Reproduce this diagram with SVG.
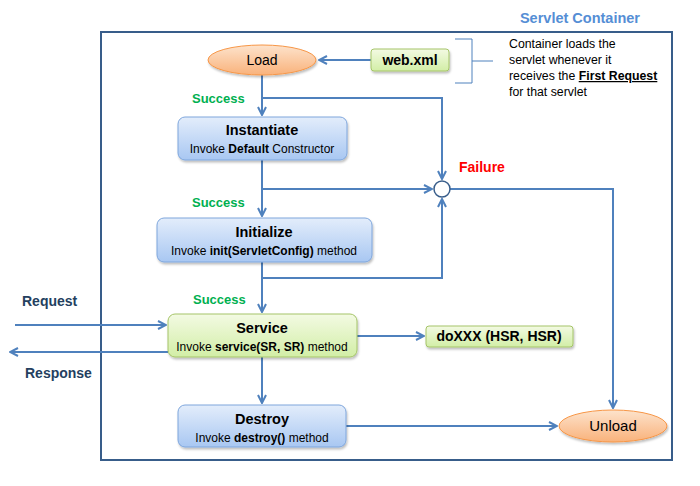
<svg xmlns="http://www.w3.org/2000/svg" width="700" height="486" viewBox="0 0 700 486">
<defs>
<linearGradient id="gBlue" x1="0" y1="0" x2="0" y2="1"><stop offset="0" stop-color="#E3EDFB"/><stop offset="1" stop-color="#A8C7F2"/></linearGradient>
<linearGradient id="gGreen" x1="0" y1="0" x2="0" y2="1"><stop offset="0" stop-color="#F3FAE3"/><stop offset="1" stop-color="#D2EEA6"/></linearGradient>
<linearGradient id="gOrange" x1="0" y1="0" x2="0" y2="1"><stop offset="0" stop-color="#FDE3CC"/><stop offset="1" stop-color="#F9B27B"/></linearGradient>
<filter id="sh" x="-10%" y="-20%" width="120%" height="150%"><feDropShadow dx="1" dy="2" stdDeviation="1.2" flood-color="#000" flood-opacity="0.25"/></filter>
<marker id="arr" viewBox="0 0 10 10" refX="9" refY="5" markerWidth="5" markerHeight="5" orient="auto" markerUnits="strokeWidth">
<polyline points="1,1 9,5 1,9" fill="none" stroke="#4F81BD" stroke-width="2"/>
</marker>
</defs>
<style>
text{font-family:"Liberation Sans",Arial,sans-serif;}
.blue{fill:url(#gBlue);stroke:#7EA6DC;stroke-width:1;filter:url(#sh);}
.green{fill:url(#gGreen);stroke:#A5C468;stroke-width:1;filter:url(#sh);}
.orange{fill:url(#gOrange);stroke:#F79646;stroke-width:1;filter:url(#sh);}
.title{font-size:14.5px;font-weight:bold;fill:#000;text-anchor:middle;}
.sub{font-size:12px;fill:#000;text-anchor:middle;}
.succ{font-size:13px;font-weight:bold;fill:#00B050;}
.io{font-size:14px;font-weight:bold;fill:#243F60;}
.conn{fill:none;stroke:#4F81BD;stroke-width:2;}
.note{font-size:12.3px;fill:#000;}
</style>
<rect x="101" y="32" width="571" height="428" fill="#fff" stroke="#385D8A" stroke-width="2"/>
<text x="580" y="23" font-size="14.5" font-weight="bold" fill="#558ED5" text-anchor="middle">Servlet Container</text>

<g id="connectors">
<path class="conn" d="M371,60 L319,60" marker-end="url(#arr)"/>
<path class="conn" d="M262,75 L262,115" marker-end="url(#arr)"/>
<path class="conn" d="M262,98 L442,98 L442,179" marker-end="url(#arr)"/>
<path class="conn" d="M262,160 L262,216" marker-end="url(#arr)"/>
<path class="conn" d="M262,189 L432,189" marker-end="url(#arr)"/>
<path class="conn" d="M262,262 L262,312" marker-end="url(#arr)"/>
<path class="conn" d="M262,278 L442,278 L442,199" marker-end="url(#arr)"/>
<path class="conn" d="M450,189 L613,189 L613,408" marker-end="url(#arr)"/>
<path class="conn" d="M15,325 L166,325" marker-end="url(#arr)"/>
<path class="conn" d="M168,352 L10,352" marker-end="url(#arr)"/>
<path class="conn" d="M357,336 L424,336" marker-end="url(#arr)"/>
<path class="conn" d="M262,357 L262,403" marker-end="url(#arr)"/>
<path class="conn" d="M346,426 L557,426" marker-end="url(#arr)"/>
</g>

<g id="failure">
<circle cx="442" cy="189" r="8" fill="#fff" stroke="#385D8A" stroke-width="1.5"/>
<text x="459" y="172" font-size="14" font-weight="bold" fill="#FF0000">Failure</text>
</g>

<g id="load">
<ellipse class="orange" cx="262" cy="60" rx="54" ry="15"/>
<text x="262" y="65" font-size="14" text-anchor="middle">Load</text>
</g>

<g id="webxml">
<rect class="green" x="371" y="49" width="78" height="22" rx="3"/>
<text x="410" y="65" font-size="14" font-weight="bold" text-anchor="middle">web.xml</text>
</g>

<g id="note">
<path d="M455,39 L472,39 L472,61 L493,61 M472,61 L472,83 L455,83" fill="none" stroke="#4F81BD" stroke-width="1"/>
<text class="note" x="509" y="48">Container loads the</text>
<text class="note" x="509" y="64">servlet whenever it</text>
<text class="note" x="509" y="80">receives the <tspan font-weight="bold" text-decoration="underline">First Request </tspan></text>
<text class="note" x="509" y="96">for that servlet</text>
</g>

<g id="labels">
<text class="succ" x="192" y="103">Success</text>
<text class="succ" x="192" y="207">Success</text>
<text class="succ" x="193" y="304">Success</text>
<text class="io" x="22" y="306">Request</text>
<text class="io" x="25" y="378">Response</text>
</g>

<g id="instantiate">
<rect class="blue" x="178" y="117" width="169" height="43" rx="7"/>
<text class="title" x="262" y="135">Instantiate</text>
<text class="sub" x="262" y="153">Invoke <tspan font-weight="bold">Default</tspan> Constructor</text>
</g>

<g id="initialize">
<rect class="blue" x="157" y="218" width="215" height="44" rx="7"/>
<text class="title" x="264" y="237">Initialize</text>
<text class="sub" x="264" y="255">Invoke <tspan font-weight="bold">init(ServletConfig)</tspan> method</text>
</g>

<g id="service">
<rect class="green" x="168" y="314" width="189" height="43" rx="7"/>
<text class="title" x="262" y="333">Service</text>
<text class="sub" x="262" y="351">Invoke <tspan font-weight="bold">service(SR, SR)</tspan> method</text>
</g>

<g id="doxxx">
<rect class="green" x="426" y="326" width="147" height="21" rx="3"/>
<text x="499" y="341" font-size="14" font-weight="bold" text-anchor="middle">doXXX (HSR, HSR)</text>
</g>

<g id="destroy">
<rect class="blue" x="178" y="405" width="168" height="42" rx="7"/>
<text class="title" x="262" y="424">Destroy</text>
<text class="sub" x="262" y="442">Invoke <tspan font-weight="bold">destroy()</tspan> method</text>
</g>

<g id="unload">
<ellipse class="orange" cx="613" cy="426" rx="54" ry="16"/>
<text x="613" y="431" font-size="15" text-anchor="middle">Unload</text>
</g>
</svg>
